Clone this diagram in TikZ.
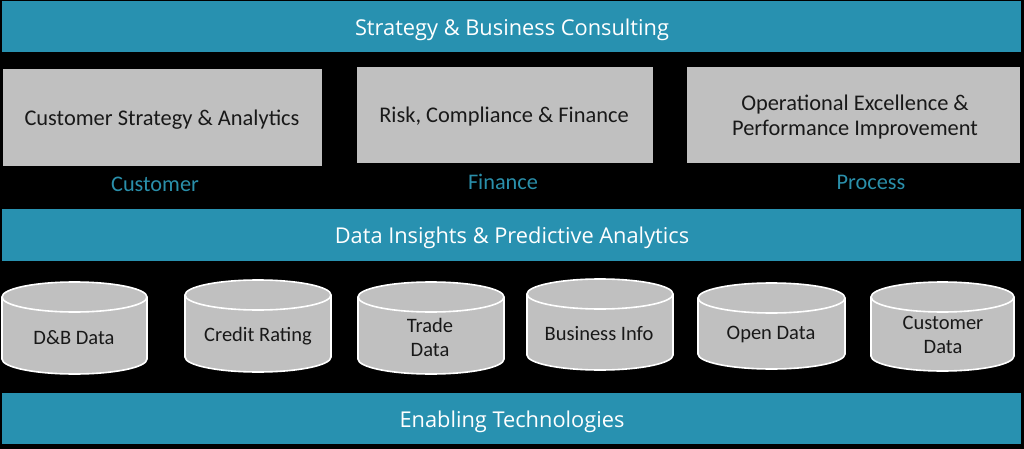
\documentclass[tikz,border=0pt]{standalone}
\usepackage{fontspec}
\setmainfont{Carlito}
\newfontfamily\barfont{Open Sans}
\definecolor{barteal}{RGB}{40,145,176}
\definecolor{labteal}{RGB}{42,143,170}
\definecolor{boxgray}{RGB}{192,192,192}
\newcommand\dbcyl[4]{% xl, xr, ytop, ybot (pixels, y down)
  \pgfmathsetmacro\rx{(#2-#1)/2}
  \path[cylbody] (#1,-#3-15) -- (#1,-#4+15) arc[start angle=180,end angle=360,x radius=\rx,y radius=15]
    -- (#2,-#3-15) arc[start angle=0,end angle=180,x radius=\rx,y radius=15] -- cycle;
  \draw[cylline] (#1,-#3-15) arc[start angle=180,end angle=360,x radius=\rx,y radius=15];
}
\begin{document}
\begin{tikzpicture}[x=1pt,y=1pt,
  bar/.style={fill=barteal, draw=none},
  bartext/.style={font=\barfont\fontsize{21.8}{26}\selectfont, text=white},
  graybox/.style={fill=boxgray, draw=none},
  boxtext/.style={font=\fontsize{22.4}{25}\selectfont, text=black!90, align=center},
  labtext/.style={font=\fontsize{22.3}{26}\selectfont, text=labteal},
  cylbody/.style={fill=boxgray, draw=white, line width=1.6pt},
  cylline/.style={draw=white, line width=1.6pt},
  cyltext/.style={font=\fontsize{20.5}{24}\selectfont, text=black!90, align=center}]
\fill[black] (0,0) rectangle (1024,-449);
\useasboundingbox (0,0) rectangle (1024,-449);
% bars
\fill[bar] (2,-1) rectangle (1021,-52);
\node[bartext] (top) at (512,-29.5) {Strategy \& Business Consulting};
\fill[bar] (2,-209) rectangle (1021,-261);
\node[bartext] (mid) at (512,-237.5) {Data Insights \& Predictive Analytics};
\fill[bar] (2,-393) rectangle (1021,-444);
\node[bartext] (bot) at (512,-421.5) {Enabling Technologies};
% gray boxes
\fill[graybox] (3,-69) rectangle (322,-166);
\node[boxtext] (b1) at (162,-120) {Customer Strategy \& Analytics};
\fill[graybox] (357,-67) rectangle (653,-163);
\node[boxtext] (b2) at (504,-117) {Risk, Compliance \& Finance};
\fill[graybox] (687,-67) rectangle (1020,-163);
\node[boxtext] (b3) at (855,-117) {Operational Excellence \&\\Performance Improvement};
% labels
\node[labtext] (l1) at (155,-184) {Customer};
\node[labtext] (l2) at (503,-182) {Finance};
\node[labtext] (l3) at (871,-182) {Process};
% cylinders
\dbcyl{2}{147}{282}{374}
\node[cyltext] (c1) at (74,-338) {D\&B Data};
\dbcyl{185}{331}{280}{372}
\node[cyltext] (c2) at (258,-336) {Credit Rating};
\dbcyl{358}{504}{282}{374}
\node[cyltext] (c3) at (430,-337) {Trade\\Data};
\dbcyl{527}{673}{279}{370}
\node[cyltext] (c4) at (599,-334) {Business Info};
\dbcyl{698}{845}{283}{369}
\node[cyltext] (c5) at (771,-334) {Open Data};
\dbcyl{871}{1014}{282}{371}
\node[cyltext] (c6) at (943,-335) {Customer\\Data};
\end{tikzpicture}
\end{document}
